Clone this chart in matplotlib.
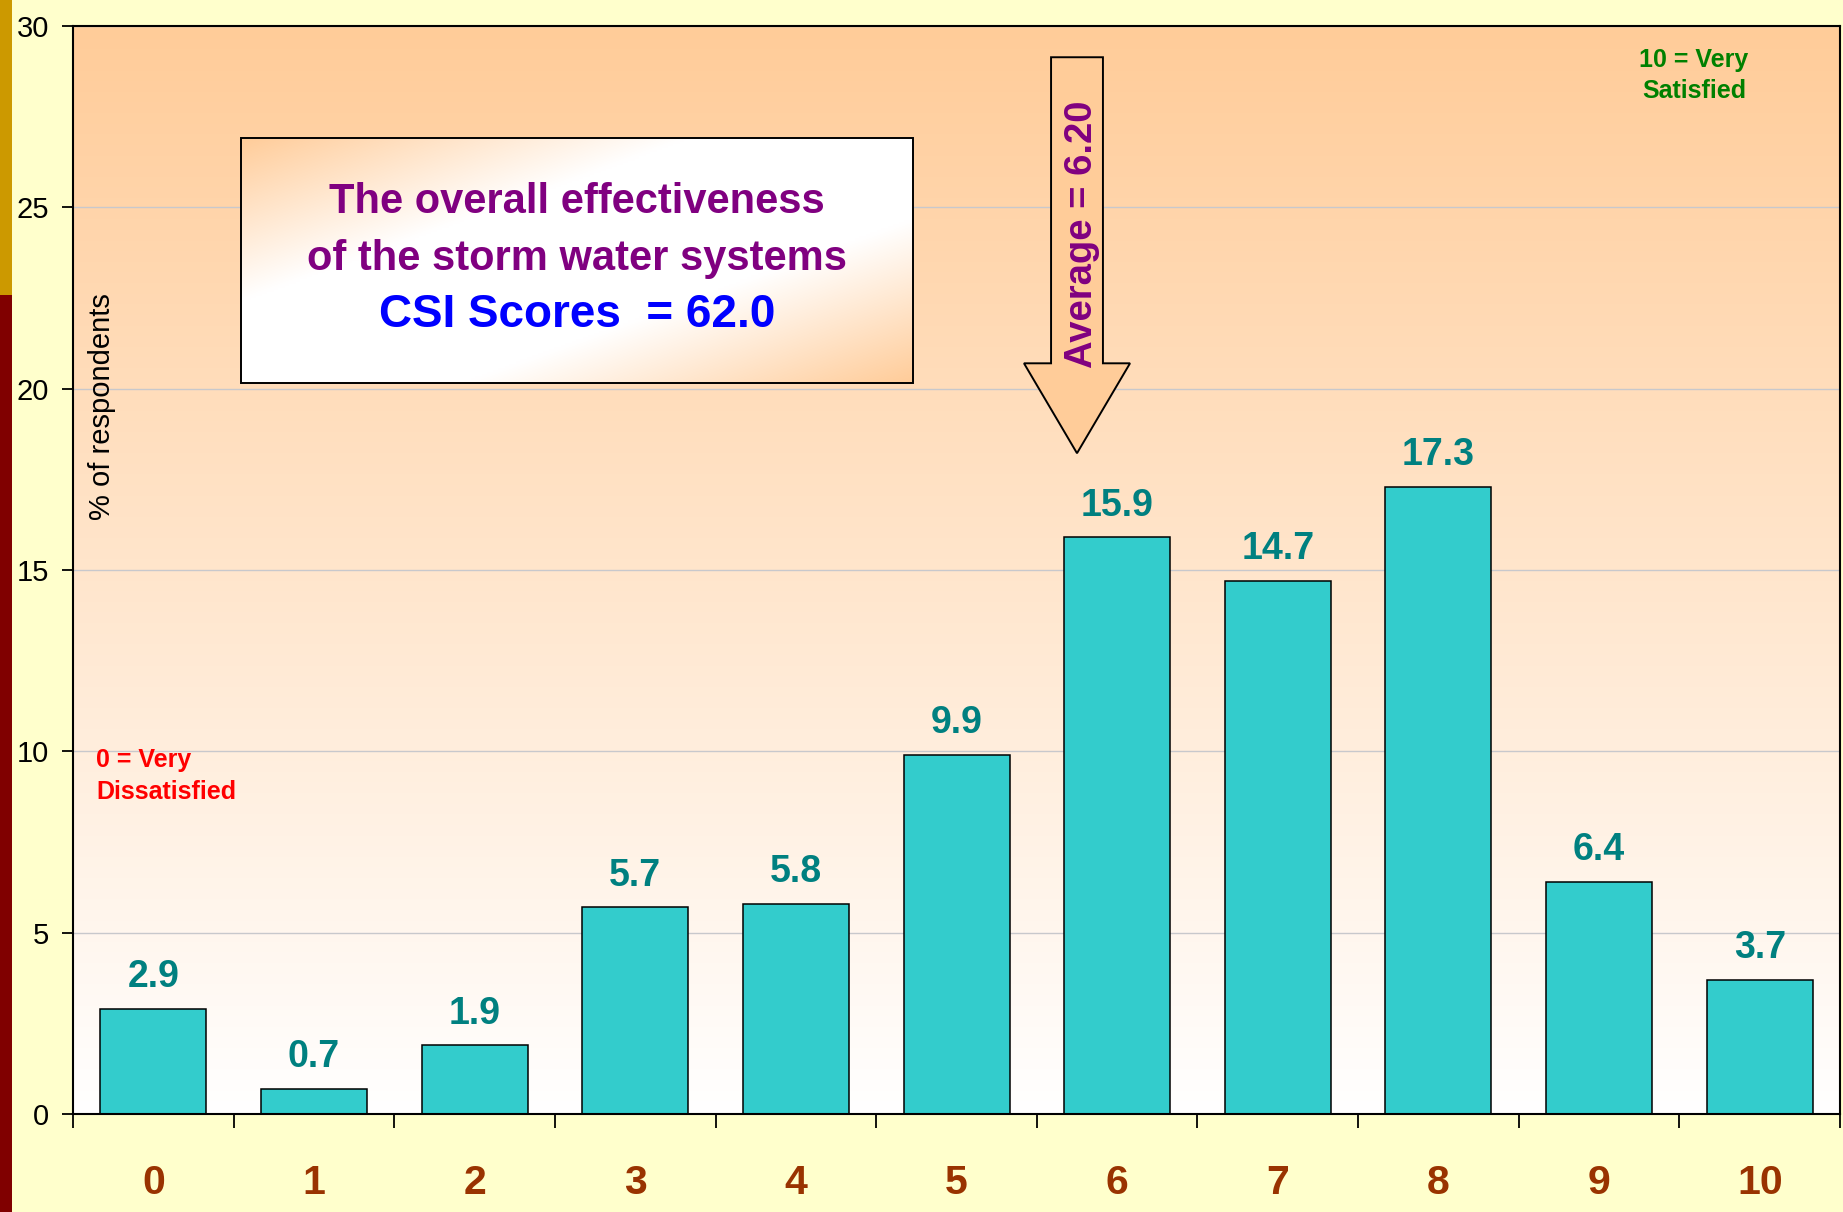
import numpy as np
import matplotlib
matplotlib.use("Agg")
import matplotlib.pyplot as plt
from matplotlib.patches import Rectangle, FancyArrow
from matplotlib.ticker import FixedLocator

plt.rcParams['font.family'] = ['Liberation Sans', 'DejaVu Sans']

# ---- data ----
categories = ['0', '1', '2', '3', '4', '5', '6', '7', '8', '9', '10']
values = [2.9, 0.7, 1.9, 5.7, 5.8, 9.9, 15.9, 14.7, 17.3, 6.4, 3.7]
y_ticks = [0, 5, 10, 15, 20, 25, 30]
average = 6.20
csi_score = 62.0
box_lines = ['The overall effectiveness', 'of the storm water systems']

fig = plt.figure(figsize=(18.43, 12.12), dpi=100, facecolor='#FFFFCC')

# left decorative strip
fig.add_artist(Rectangle((0, 0.7566), 12 / 1843, 1 - 0.7566, transform=fig.transFigure,
                         facecolor='#CC9900', edgecolor='none'))
fig.add_artist(Rectangle((0, 0), 12 / 1843, 0.7566, transform=fig.transFigure,
                         facecolor='#800000', edgecolor='none'))

ax = fig.add_axes([0.0396, 0.0809, 0.9588, 0.8976])
x = np.arange(len(categories))

# gradient background of plot area
peach = np.array([255, 204, 153]) / 255.0
white = np.array([1.0, 1.0, 1.0])
t = np.linspace(0, 1, 256)[:, None]  # 0 at top, 1 at bottom
grad = peach[None, :] * (1 - t) + white[None, :] * t
grad = np.repeat(grad[:, None, :], 2, axis=1)
ax.imshow(grad, extent=[-0.5, 10.5, 0, 30], aspect='auto', zorder=0, interpolation='bilinear')

ax.bar(x, values, width=0.66, color='#33CCCC', edgecolor='black', linewidth=1.1, zorder=3)

for xi, v in zip(x, values):
    ax.annotate(f'{v:.1f}', (xi, v), xytext=(0, 15.5), textcoords='offset points',
                ha='center', va='baseline', fontsize=27, fontweight='bold',
                color='#008080', zorder=4)

ax.set_xlim(-0.5, 10.5)
ax.set_ylim(0, 30)
ax.set_yticks(y_ticks)
ax.set_xticks(x)
ax.set_xticklabels(categories, fontsize=29.5, fontweight='bold', color='#993300')
ax.xaxis.set_minor_locator(FixedLocator(np.arange(-0.5, 11, 1)))
ax.tick_params(axis='x', which='major', length=0, pad=36)
ax.tick_params(axis='x', which='minor', length=10, width=1.3, direction='out', color='black')
ax.tick_params(axis='y', which='major', length=8, width=1.3, direction='out',
               labelsize=21, pad=9)
for lab in ax.get_yticklabels():
    lab.set_color('black')

ax.yaxis.grid(True, color='#C8C8CC', linewidth=1.0, zorder=1)
ax.set_axisbelow(False)
for gl in ax.get_ygridlines():
    gl.set_zorder(1)
for s in ax.spines.values():
    s.set_linewidth(1.5)
    s.set_color('black')
    s.set_zorder(5)

# y axis label inside plot
ax.text(-0.32, 19.5, '% of respondents', rotation=90, ha='center', va='center',
        fontsize=21, color='black', zorder=4)

# scale end notes
ax.text(-0.355, 10.08, '0 = Very\nDissatisfied', ha='left', va='top', fontsize=18,
        fontweight='bold', color='#FF0000', linespacing=1.4, zorder=4)
ax.text(9.59, 29.4, '10 = Very\nSatisfied', ha='center', va='top', fontsize=18,
        fontweight='bold', color='#008000', linespacing=1.4, zorder=4)

# average arrow
ax.add_patch(FancyArrow(5.75, 29.14, 0, -10.92, width=0.323, head_width=0.66,
                        head_length=2.48, length_includes_head=True,
                        facecolor='#FFCC99', edgecolor='black', linewidth=1.4, zorder=6))
ax.text(5.78, 24.26, f'Average = {average:.2f}', rotation=90, ha='center', va='center',
        fontsize=27.5, fontweight='bold', color='#800080', zorder=7)

# text box with diagonal gradient
bx0, bx1, by0, by1 = 0.546, 4.73, 20.15, 26.91
ny, nx = 120, 300
yy, xx = np.mgrid[0:1:ny * 1j, 0:1:nx * 1j]
d = (xx + yy) / 2.0
w = 1 - np.abs(2 * d - 1)
w = np.clip(w * 1.5, 0, 1)
box_img = peach[None, None, :] * (1 - w[..., None]) + white[None, None, :] * w[..., None]
ax.imshow(box_img, extent=[bx0, bx1, by0, by1], aspect='auto', zorder=6,
          interpolation='bilinear', origin='upper')
ax.add_patch(Rectangle((bx0, by0), bx1 - bx0, by1 - by0, facecolor='none',
                       edgecolor='black', linewidth=1.4, zorder=7))
bxc = (bx0 + bx1) / 2
ax.text(bxc, 25.15, box_lines[0], ha='center', va='center', fontsize=30,
        fontweight='bold', color='#800080', zorder=8)
ax.text(bxc, 23.57, box_lines[1], ha='center', va='center', fontsize=30,
        fontweight='bold', color='#800080', zorder=8)
ax.text(bxc, 22.03, f'CSI Scores  = {csi_score:.1f}', ha='center', va='center', fontsize=33,
        fontweight='bold', color='#0000FF', zorder=8)

ax.set_xlim(-0.5, 10.5)
ax.set_ylim(0, 30)

fig.savefig('out.png', dpi=100, facecolor=fig.get_facecolor())
